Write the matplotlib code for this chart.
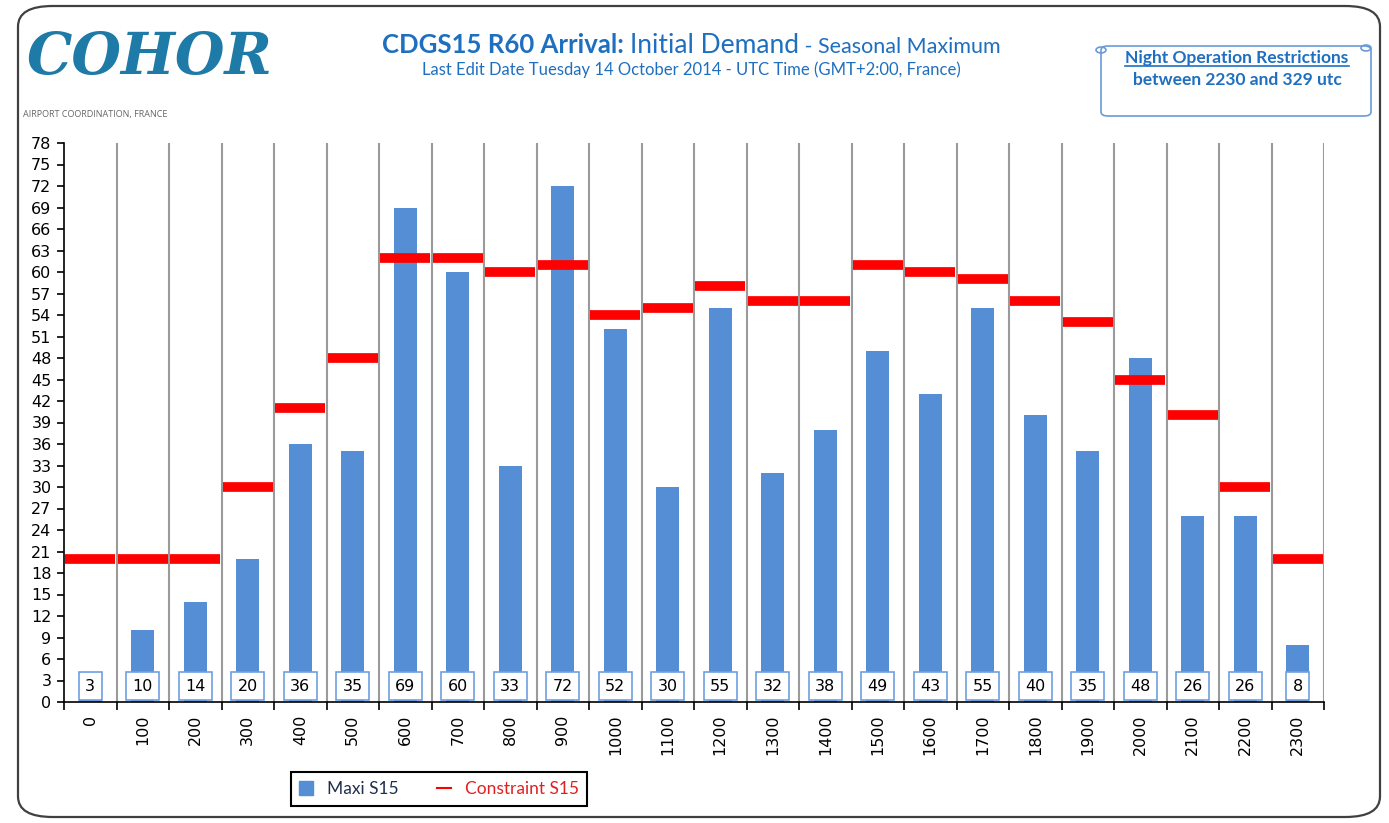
import matplotlib
matplotlib.use("Agg")
import matplotlib.pyplot as plt
from matplotlib.patches import FancyBboxPatch, Circle
from matplotlib.lines import Line2D
import numpy as np

hours = ["0", "100", "200", "300", "400", "500", "600", "700", "800", "900", "1000", "1100",
         "1200", "1300", "1400", "1500", "1600", "1700", "1800", "1900", "2000", "2100", "2200", "2300"]
maxi = [3, 10, 14, 20, 36, 35, 69, 60, 33, 72, 52, 30, 55, 32, 38, 49, 43, 55, 40, 35, 48, 26, 26, 8]
constraint = [20, 20, 20, 30, 41, 48, 62, 62, 60, 61, 54, 55, 58, 56, 56, 61, 60, 59, 56, 53, 45, 40, 30, 20]
yticks = list(range(0, 79, 3))

BLUE = "#558ed5"
RED = "#ff0000"
TITLE = "#1f6fc0"
W, H = 1389, 823

fig = plt.figure(figsize=(W / 100, H / 100), dpi=100)
fig.patch.set_facecolor("white")

# outer rounded frame
frame = FancyBboxPatch((18 / W, 6 / H), 1362 / W, 811 / H, boxstyle="round,pad=0,rounding_size=0.025",
                       transform=fig.transFigure, fill=False, edgecolor="#404040", lw=1.6)
fig.patches.append(frame)

ax = fig.add_axes([64 / W, 1 - 702 / H, 1260 / W, 559 / H])
x = np.arange(len(hours))
ax.bar(x, maxi, width=0.44, color=BLUE, zorder=2, label="Maxi S15")
ax.hlines(constraint, x - 0.48, x + 0.48, color=RED, lw=7, zorder=3)

for xi, v in zip(x, maxi):
    ax.text(xi, 2.2, str(v), ha="center", va="center", fontsize=11.5, color="black", zorder=4,
            bbox=dict(boxstyle="square,pad=0.4", facecolor="white", edgecolor="#6f9fe0", lw=1.2))

ax.set_xlim(-0.5, len(hours) - 0.5)
ax.set_ylim(0, 78)
ax.set_yticks(yticks)
ax.tick_params(axis="y", labelsize=11.5, length=5, width=1.2, direction="out", pad=4)
ax.set_xticks(np.arange(-0.5, len(hours), 1.0))
ax.set_xticklabels([])
ax.tick_params(axis="x", which="major", length=6, width=1.2, direction="out")
ax.set_xticks(x, minor=True)
ax.set_xticklabels(hours, minor=True, rotation=90, fontsize=11.5)
ax.tick_params(axis="x", which="minor", length=0, pad=9)
for b in np.arange(0.5, len(hours), 1.0):
    ax.axvline(b, color="#9a9a9a", lw=1.5, zorder=1)
ax.spines["top"].set_visible(False)
ax.spines["right"].set_visible(False)
ax.spines["left"].set_linewidth(1.2)
ax.spines["bottom"].set_linewidth(1.2)

# legend
handles = [plt.Rectangle((0, 0), 1, 1, color=BLUE), Line2D([0], [0], color=RED, lw=1.5)]
leg = fig.legend(handles, ["Maxi S15", "Constraint S15"], loc="center",
                 bbox_to_anchor=(439 / W, 1 - 789 / H), ncol=2, fancybox=False,
                 edgecolor="black", handlelength=0.8, handleheight=0.8,
                 columnspacing=2.2, borderpad=0.5, framealpha=1,
                 prop={"family": "Lato", "size": 12.5})
leg.get_frame().set_linewidth(1.5)
leg.get_texts()[1].set_color("#e02020")
leg.get_texts()[0].set_color("#1f2f4f")

# logo
fig.text(27 / W, 1 - 58 / H, "COHOR", fontsize=41, color="#1e7aa6", fontweight="heavy",
         fontstyle="italic", family="DejaVu Serif", va="center", ha="left")
fig.text(23 / W, 1 - 115 / H, "AIRPORT COORDINATION, FRANCE", fontsize=6.5, color="#666666",
         family="Open Sans", va="center", ha="left")

# title in pieces
fig.canvas.draw()
r = fig.canvas.get_renderer()
parts = [("CDGS15 R60 Arrival: ", "bold", 18.5), ("Initial Demand", "normal", 19),
         (" - Seasonal Maximum", "normal", 15.5)]
texts = []
xpos = 0
for s, wgt, sz in parts:
    t = fig.text(0, 1 - 53 / H, s, fontsize=sz, fontweight=wgt, color=TITLE, family="Lato",
                 va="baseline", ha="left")
    w = t.get_window_extent(r).width
    texts.append((t, xpos))
    xpos += w
start = 691 - xpos / 2
for t, off in texts:
    t.set_x((start + off) / W)
fig.text(691 / W, 1 - 70 / H, "Last Edit Date Tuesday 14 October 2014 - UTC Time (GMT+2:00, France)",
         fontsize=12, color=TITLE, family="Lato", ha="center", va="center")

# night restriction scroll
scroll = FancyBboxPatch((1101 / W, 1 - 116 / H), 270 / W, 70 / H,
                        boxstyle="round,pad=0,rounding_size=0.005", transform=fig.transFigure,
                        fill=False, edgecolor="#6a9ad8", lw=1.2)
fig.patches.append(scroll)
fig.patches.append(Circle((1366 / W, 1 - 48 / H), 5 / W, transform=fig.transFigure, fill=False,
                          edgecolor="#6a9ad8", lw=1.2))
fig.patches.append(Circle((1101 / W, 1 - 50 / H), 5 / W, transform=fig.transFigure, fill=False,
                          edgecolor="#6a9ad8", lw=1.2))
t1 = fig.text(1237 / W, 1 - 63 / H, "Night Operation Restrictions", fontsize=12.5, fontweight="bold",
              color=TITLE, family="Lato", ha="center", va="baseline")
fig.text(1237 / W, 1 - 85 / H, "between 2230 and 329 utc", fontsize=12.5, fontweight="bold",
         color=TITLE, family="Lato", ha="center", va="baseline")
bb = t1.get_window_extent(r)
fig.lines.append(Line2D([bb.x0 / W, bb.x1 / W], [1 - 66 / H, 1 - 66 / H],
                        transform=fig.transFigure, color=TITLE, lw=1.2))

fig.savefig("out.png", dpi=100)
